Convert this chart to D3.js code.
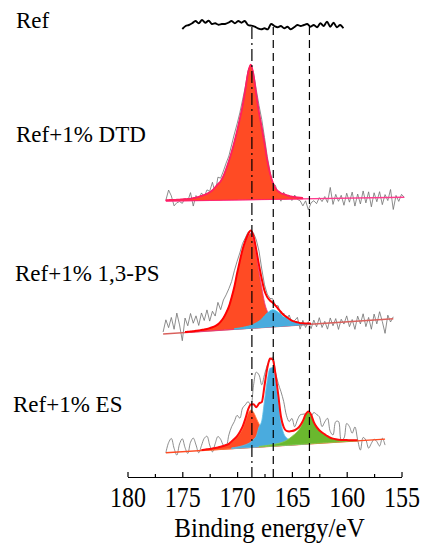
<!DOCTYPE html>
<html><head><meta charset="utf-8">
<script src="https://cdn.jsdelivr.net/npm/d3@7"></script>
<style>body{margin:0;background:#fff}svg{display:block}</style>
</head><body>
<svg id="c" width="431" height="544"></svg>
<script>
// ---------------- data ----------------
const majorTicks = [180,175,170,165,160,155];
const minorTicks = [177.5,172.5,167.5,162.5,157.5];
const axisTitle = "Binding energy/eV";
const sampleLabels = ["Ref","Ref+1% DTD","Ref+1% 1,3-PS","Ref+1% ES"];
const markerEnergies = [168.65,166.7,163.4];
const markerKinds = ["dashdot","dash","dash"];
const gridStep = 0.25;

// Ref (raw trace, counts relative to offset)
const refOffset = 4500;
const refStart = 175, refStep = 0.3;
const refCounts = [-20,10,20,37,60,37,70,43,63,30,37,23,30,30,43,60,37,60,43,60,20,13,3,-13,-23,-13,-23,30,10,-3,10,-13,3,-23,-3,20,10,20,30,3,20,-3,37,10,53,3,43,-3,20,-13];

// Ref+1% DTD
const dtdOffset = 2760, dtdStart = 176.5;
const dtdBackground = [0,37];
const dtdPeakStart = 176.5;
const dtdPeak = [8,9,10,10,11,12,14,15,17,20,25,30,37,45,55,65,80,100,130,160,190,240,310,390,480,580,690,810,940,1100,1270,1350,1240,1050,870,720,560,390,260,170,110,80,60,50,40,30,25,20,15,12,10];
const dtdResidual = [0,100,40,-60,-30,-20,-40,10,-20,60,-80,20,-30,30,-20,40,10,80,-60,70,30,50,60,50,70,80,70,60,60,30,20,0,30,50,70,80,60,40,20,-20,30,-40,-80,20,-30,10,-40,20,-20,-30,-80,-20,-110,-40,-20,-50,10,-30,20,-40,110,-60,40,-30,30,-70,50,-40,60,-80,40,-60,70,-50,60,-90,50,-40,60,-70,30,-30,80,-120,20,-40,30,0];

// Ref+1% 1,3-PS
const psOffset = 1430, psStart = 176.75;
const psBackground = [0,152];
const psPeak1Start = 174.75;
const psPeak1 = [5,6,7,8,10,12,15,18,22,28,35,45,60,85,120,170,230,320,420,550,670,780,860,920,950,880,730,560,400,250,160,105,70,50,36,27,20,15,12,9,7,5];
const psPeak2Start = 170.25;
const psPeak2 = [6,8,10,13,17,22,28,38,50,65,85,115,140,160,170,160,140,115,90,75,55,40,30,23,18,14,11,8,6];
const psResidual = [20,140,60,160,40,200,80,-80,140,60,180,80,150,50,170,90,190,70,160,100,220,120,180,180,180,160,160,120,80,60,30,20,0,30,100,140,100,60,30,20,40,0,30,-40,20,-30,40,-20,10,50,-60,30,-40,20,-50,40,-30,60,-40,20,-60,50,-30,40,-70,30,-20,60,-50,20,-80,50,-30,70,-60,30,-90,60,-40,80,-20,-140,40,-30,20];

// Ref+1% ES
const esOffset = 242, esStart = 176.5;
const esBackground = [0,137];
const esPeak1Start = 173.25;
const esPeak1 = [5,7,9,11,14,17,21,26,32,40,50,65,85,110,145,190,260,340,375,350,290,230,180,140,110,85,65,50,40,32,26,21,17,14,11,9,7,5];
const esPeak2Start = 170.5;
const esPeak2 = [8,10,13,17,23,30,40,55,80,110,200,260,460,660,780,785,650,450,230,120,75,55,40,29,21,16,13,10,8,6];
const esPeak3Start = 168.0;
const esPeak3 = [5,7,9,11,14,16,19,23,29,37,48,65,85,105,130,165,215,285,316,285,215,165,130,105,85,65,48,37,29,23,19,16,14,11,9,7,5];
const esResidual = [0,100,140,40,-30,80,130,40,-20,90,130,60,-20,45,113,131,39,-34,43,109,74,8,-10,90,147,175,207,138,187,140,80,-5,190,350,285,173,111,29,-20,24,21,112,249,257,156,98,126,35,85,107,67,5,-69,-21,95,125,135,59,125,179,62,37,176,182,1,19,166,136,71,133,5,-94,30,3,-80,-34,5,-20,-66,10,-60];

// ---------------- styles ----------------
const FILL_OR = "#ff4b24", FILL_BL = "#4aabde", FILL_GR = "#6ab82e";
const panels = [
  {offset:dtdOffset, start:dtdStart, bg:dtdBackground, residual:dtdResidual,
   comps:[{start:dtdPeakStart, counts:dtdPeak, fill:FILL_OR, stroke:"#ff1a6e"}],
   bgColor:"#ff3c8e", envColor:"#ff2060", envWidth:1.8, dataCurve:d3.curveLinear},
  {offset:psOffset, start:psStart, bg:psBackground, residual:psResidual,
   comps:[{start:psPeak1Start, counts:psPeak1, fill:FILL_OR, stroke:"#e8308a"},
          {start:psPeak2Start, counts:psPeak2, fill:FILL_BL, stroke:"#2cc6ee"}],
   bgColor:"#d9605c", envColor:"#ff0000", envWidth:2, dataCurve:d3.curveLinear},
  {offset:esOffset, start:esStart, bg:esBackground, residual:esResidual,
   comps:[{start:esPeak1Start, counts:esPeak1, fill:FILL_OR, stroke:"#ff7a3a"},
          {start:esPeak2Start, counts:esPeak2, fill:FILL_BL, stroke:"#5cc0ea"},
          {start:esPeak3Start, counts:esPeak3, fill:FILL_GR, stroke:"#8ccc4c"}],
   bgColor:"#ff4a22", envColor:"#ff0a0a", envWidth:2, dataCurve:d3.curveCatmullRom.alpha(0.5)}
];

// ---------------- drawing ----------------
const svg = d3.select("#c");
const FONT = "'Liberation Serif','Times New Roman',serif";
const x = d3.scaleLinear().domain([180,155]).range([127.5,401.5]);
const y = d3.scaleLinear().domain([0,4600]).range([477,17]);

// Ref trace
svg.append("path")
  .datum(refCounts.map((v,i)=>({e:refStart - i*refStep, v:refOffset+v})))
  .attr("fill","none").attr("stroke","#000").attr("stroke-width",1.9)
  .attr("stroke-linejoin","round")
  .attr("d", d3.line().x(d=>x(d.e)).y(d=>y(d.v)).curve(d3.curveCatmullRom.alpha(0.5)));

panels.forEach(p=>{
  const n = p.residual.length;
  const E = i => p.start - i*gridStep;
  const bg = i => p.offset + p.bg[0] + (p.bg[1]-p.bg[0])*i/(n-1);
  const comps = p.comps.map(c=>({...c, i0:Math.round((p.start - c.start)/gridStep)}));
  const at = (c,i) => (i>=c.i0 && i<c.i0+c.counts.length) ? c.counts[i-c.i0] : 0;
  const env = i => bg(i) + comps.reduce((s,c)=>s+at(c,i),0);
  const all = d3.range(n);

  // measured data
  svg.append("path").datum(all)
    .attr("fill","none").attr("stroke","#707070").attr("stroke-width",0.8)
    .attr("d", d3.line().x(i=>x(E(i))).y(i=>y(env(i)+p.residual[i])).curve(p.dataCurve));

  // background
  svg.append("path").datum([0,n-1])
    .attr("fill","none").attr("stroke",p.bgColor).attr("stroke-width",1.4)
    .attr("d", d3.line().x(i=>x(E(i))).y(i=>y(bg(i))));

  // components
  comps.forEach(c=>{
    const idx = d3.range(c.i0, c.i0 + c.counts.length);
    svg.append("path").datum(idx)
      .attr("fill",c.fill).attr("stroke",c.stroke).attr("stroke-width",0.8)
      .attr("d", d3.area().x(i=>x(E(i))).y0(i=>y(bg(i))).y1(i=>y(bg(i)+at(c,i))).curve(d3.curveMonotoneX));
  });

  // envelope
  const lo = d3.min(comps, c=>c.i0), hi = d3.max(comps, c=>c.i0+c.counts.length-1);
  svg.append("path").datum(d3.range(lo,hi+1))
    .attr("fill","none").attr("stroke",p.envColor).attr("stroke-width",p.envWidth)
    .attr("stroke-linejoin","round")
    .attr("d", d3.line().x(i=>x(E(i))).y(i=>y(env(i))).curve(d3.curveMonotoneX));
});

// reference lines
markerEnergies.forEach((e,k)=>{
  svg.append("line")
    .attr("x1",x(e)).attr("x2",x(e)).attr("y1",y(4500)).attr("y2",y(0))
    .attr("stroke","#000").attr("stroke-width",1.2)
    .attr("stroke-dasharray", markerKinds[k]==="dashdot" ? "12,4,2,4" : "8,5");
});

// axis
const gx = svg.append("g").attr("transform",`translate(0,${y(0)})`);
gx.call(d3.axisBottom(x).tickValues(majorTicks).tickSizeInner(-5).tickSizeOuter(0).tickFormat(d3.format("d")));
gx.append("g").call(d3.axisBottom(x).tickValues(minorTicks).tickSizeInner(-3).tickSizeOuter(0).tickFormat(""))
  .select(".domain").remove();
gx.selectAll("path,line").attr("stroke","#000").attr("stroke-width",1.2);
gx.selectAll("text")
  .attr("y",0).attr("dy",null)
  .attr("transform","translate(0,30) scale(1,1.2)")
  .attr("fill","#000").style("font-family",FONT).style("font-size","24px");

svg.append("text")
  .attr("transform",`translate(${(x(180)+x(155))/2+5},537) scale(1,1.1)`)
  .attr("text-anchor","middle").style("font-family",FONT).style("font-size","25px")
  .text(axisTitle);

// sample labels
const labelPos = [[16,28],[16,142],[15,281],[13,412]];
sampleLabels.forEach((t,k)=>{
  svg.append("text").attr("x",labelPos[k][0]).attr("y",labelPos[k][1])
    .style("font-family",FONT).style("font-size","23px").attr("fill","#000").text(t);
});
</script>
</body></html>
